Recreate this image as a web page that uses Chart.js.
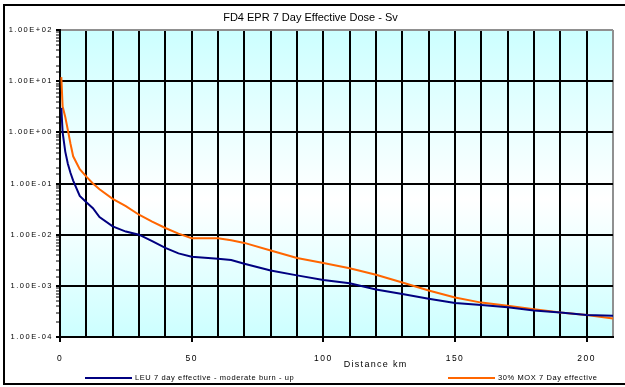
<!DOCTYPE html>
<html>
<head>
<meta charset="utf-8">
<script src="https://cdn.jsdelivr.net/npm/chart.js@4.4.1/dist/chart.umd.min.js"></script>
<style>
  html, body { margin: 0; padding: 0; background: #fff; }
  #wrap { width: 625px; height: 387px; }
</style>
</head>
<body>
<div id="wrap"><canvas id="dose-chart"></canvas></div>
<script>
// distances (km) where the 7 day dose was evaluated
const distanceKm = [0.5, 1, 2, 3, 4, 5, 7.5, 10, 12.5, 15, 20, 25, 30, 35, 40, 45, 50, 60, 65, 70,
                    80, 90, 100, 110, 120, 130, 140, 150, 160, 170, 180, 190, 200, 210];
// LEU fuel, moderate burn-up (Sv)
const leuDose = [3.0, 1.0, 0.42, 0.24, 0.16, 0.114, 0.057, 0.043, 0.033, 0.022, 0.0145, 0.0115, 0.010, 0.0075, 0.0055, 0.0043, 0.0037, 0.0034, 0.0032, 0.0027,
                 0.0020, 0.0016, 0.0013, 0.00112, 0.00085, 0.00069, 0.00056, 0.00046, 0.00042, 0.00038, 0.00033, 0.00030, 0.00027, 0.00026];
// 30% MOX core (Sv)
const moxDose = [12, 3.2, 2.0, 1.1, 0.59, 0.34, 0.19, 0.136, 0.10, 0.077, 0.050, 0.036, 0.0245, 0.018, 0.0135, 0.0105, 0.0085, 0.0085, 0.0078, 0.0069,
                 0.0049, 0.0035, 0.0028, 0.0022, 0.00164, 0.00116, 0.00081, 0.00059, 0.00047, 0.00041, 0.00035, 0.00030, 0.00027, 0.00023];

const seriesNames = ['LEU 7 day effective - moderate burn - up', '30% MOX 7 Day effective'];
const seriesColors = ['#000080', '#ff6600'];
const labelledKm = [0, 50, 100, 150, 200];
const chartTitle = 'FD4 EPR 7 Day Effective Dose - Sv';
const xAxisTitle = 'Distance km';

function isDecade(v) {
    const l = Math.log10(v);
    return Math.abs(l - Math.round(l)) < 1e-6;
}

function sciLabel(v) {
    const e = Math.round(Math.log10(v));
    return '1.00E' + (e < 0 ? '-' : '+') + String(Math.abs(e)).padStart(2, '0');
}

// excel style plot background + outer frame, then text that chart.js doesn't place for us
const decorations = {
    id: 'decorations',
    beforeDraw(chart) {
        const { ctx, chartArea: a } = chart;
        ctx.save();
        const g = ctx.createLinearGradient(0, a.top, 0, a.bottom);
        g.addColorStop(0, '#ccffff');
        g.addColorStop(0.55, '#ffffff');
        g.addColorStop(1, '#ccffff');
        ctx.fillStyle = g;
        ctx.fillRect(a.left, a.top, a.right - a.left, a.bottom - a.top);
        ctx.restore();
        // tick labels are spaced out a little
        ctx.letterSpacing = '1.5px';
    },
    afterDraw(chart) {
        const { ctx, chartArea: a } = chart;
        ctx.save();
        ctx.letterSpacing = '0px';
        ctx.strokeStyle = '#000';
        ctx.lineWidth = 2;
        ctx.strokeRect(4, 5, chart.width + 10, 379);

        ctx.fillStyle = '#000';
        ctx.textBaseline = 'middle';
        ctx.textAlign = 'center';
        ctx.font = '11px "Liberation Sans", Arial, sans-serif';
        ctx.fillText(chartTitle, chart.width / 2 - 2, 18);

        ctx.letterSpacing = '1.3px';
        ctx.textAlign = 'left';
        ctx.font = '9px "Liberation Sans", Arial, sans-serif';
        ctx.fillText(xAxisTitle, a.left + (a.right - a.left) * 0.513, 365);

        // legend
        ctx.letterSpacing = '0.6px';
        ctx.font = '7.5px "Liberation Sans", Arial, sans-serif';
        const legendX = [85, 448];
        chart.data.datasets.forEach((ds, i) => {
            const x = legendX[i];
            ctx.strokeStyle = ds.borderColor;
            ctx.lineWidth = 2;
            ctx.beginPath();
            ctx.moveTo(x, 378);
            ctx.lineTo(x + 47, 378);
            ctx.stroke();
            ctx.fillText(ds.label, x + 50, 378);
        });
        ctx.restore();
    }
};

new Chart(document.querySelector('#dose-chart').getContext('2d'), {
    type: 'line',
    data: {
        datasets: [leuDose, moxDose].map((vals, i) => ({
            label: seriesNames[i],
            data: distanceKm.map((d, j) => ({ x: d, y: vals[j] })),
            borderColor: seriesColors[i],
            backgroundColor: seriesColors[i],
            borderWidth: 2,
            pointRadius: 0,
            tension: 0,
            fill: false
        }))
    },
    options: {
        responsive: true,
        maintainAspectRatio: false,
        animation: false,
        layout: { padding: { top: 30, right: 6, left: 0, bottom: 0 } },
        plugins: {
            legend: { display: false },
            title: { display: false },
            tooltip: { enabled: false }
        },
        scales: {
            x: {
                type: 'linear',
                min: 0,
                max: 210,
                afterFit(scale) { scale.height = 50; },
                border: { display: true, color: '#000', width: 2 },
                grid: {
                    color: c => c.tick.value === 210 ? '#909090' : '#000',
                    lineWidth: 2,
                    tickLength: 5,
                    tickColor: c => labelledKm.includes(c.tick.value) ? '#000' : 'rgba(0,0,0,0)',
                    tickWidth: 2
                },
                ticks: {
                    stepSize: 10,
                    autoSkip: false,
                    maxRotation: 0,
                    padding: 12,
                    color: '#000',
                    font: { family: '"Liberation Sans", Arial, sans-serif', size: 8.5 },
                    callback: v => labelledKm.includes(v) ? String(v) : ''
                }
            },
            y: {
                type: 'logarithmic',
                min: 1e-4,
                max: 1e2,
                afterFit(scale) { scale.width = 60; },
                border: { display: true, color: '#000', width: 2 },
                grid: {
                    color: c => !isDecade(c.tick.value) ? 'rgba(0,0,0,0)' : (c.tick.value > 50 ? '#909090' : '#000'),
                    lineWidth: 2,
                    tickLength: 4,
                    tickColor: '#000',
                    tickWidth: c => isDecade(c.tick.value) ? 2 : 1
                },
                ticks: {
                    autoSkip: false,
                    padding: 3,
                    color: '#000',
                    font: { family: '"Liberation Sans", Arial, sans-serif', size: 7.5 },
                    callback: v => isDecade(v) ? sciLabel(v) : ''
                }
            }
        }
    },
    plugins: [decorations]
});
</script>
</body>
</html>
